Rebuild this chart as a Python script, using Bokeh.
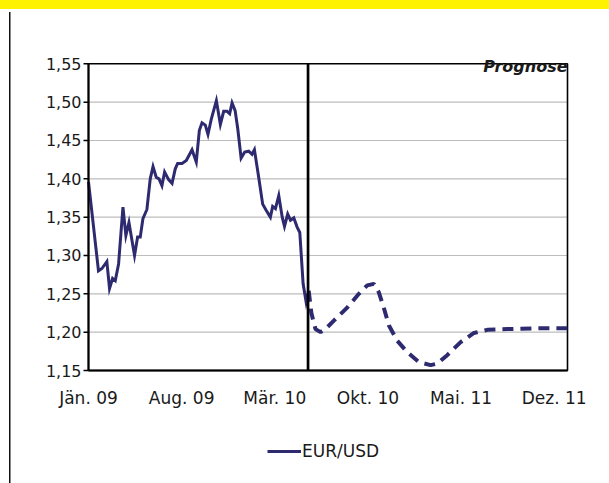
from bokeh.plotting import figure
from bokeh.models import (Label, Legend, LegendItem, Range1d)
from bokeh.core.properties import value
from bokeh.embed import file_html
from bokeh.resources import INLINE

# ---- data (months since Jan 2009) ----
hist_month = [0, 0.75, 1.01, 1.38, 1.58, 1.81, 2.01, 2.26, 2.59, 2.81, 3.04, 3.46, 3.69, 3.89,
              4.09, 4.39, 4.64, 4.85, 5.09, 5.30, 5.52, 5.72, 6.02, 6.28, 6.52, 6.70, 7.03,
              7.35, 7.78, 8.10, 8.33, 8.53, 8.78, 8.98, 9.23, 9.61, 9.91, 10.16, 10.41, 10.61,
              10.79, 11.02, 11.22, 11.47, 11.74, 12.04, 12.29, 12.47, 12.79, 13.09, 13.35,
              13.67, 13.84, 14.05, 14.30, 14.56, 14.73, 14.97, 15.18, 15.43, 15.68, 15.88,
              16.13, 16.36, 16.55]
hist_rate = [1.396, 1.280, 1.283, 1.292, 1.257, 1.270, 1.267, 1.289, 1.363, 1.326, 1.343,
             1.300, 1.324, 1.324, 1.348, 1.360, 1.400, 1.416, 1.402, 1.400, 1.391, 1.409,
             1.399, 1.394, 1.413, 1.420, 1.420, 1.424, 1.438, 1.422, 1.463, 1.473, 1.470,
             1.458, 1.478, 1.502, 1.471, 1.488, 1.488, 1.485, 1.499, 1.489, 1.465, 1.427,
             1.435, 1.436, 1.432, 1.438, 1.402, 1.367, 1.359, 1.350, 1.364, 1.361, 1.378,
             1.350, 1.338, 1.354, 1.346, 1.349, 1.337, 1.330, 1.263, 1.239, 1.254]

fc_month = [16.55, 16.75, 17.06, 17.44, 17.81, 18.44, 19.44, 20.32, 20.95, 21.44, 21.82,
            22.19, 22.57, 23.20, 23.95, 24.83, 25.71, 26.21, 26.96, 27.97, 28.97, 29.98,
            31.48, 33.49, 36.0]
fc_rate = [1.254, 1.225, 1.204, 1.200, 1.204, 1.215, 1.232, 1.250, 1.261, 1.263, 1.252,
           1.232, 1.209, 1.189, 1.174, 1.161, 1.157, 1.159, 1.170, 1.187, 1.199, 1.203,
           1.204, 1.205, 1.205]

forecast_start = 16.5
x_start, x_end = 0, 36

x_ticks = [0, 7, 14, 21, 28, 35]
x_tick_labels = ["Jän. 09", "Aug. 09", "Mär. 10", "Okt. 10", "Mai. 11", "Dez. 11"]
y_ticks = [1.15, 1.20, 1.25, 1.30, 1.35, 1.40, 1.45, 1.50, 1.55]
y_tick_labels = ["1,15", "1,20", "1,25", "1,30", "1,35", "1,40", "1,45", "1,50", "1,55"]

series_name = "EUR/USD"
LINE = "#2d2a70"
FONT = "DejaVu Sans"
TXT = "#1a1a1a"

y_lo, y_hi = y_ticks[0], y_ticks[-1]

# ---- layout: the frame is larger than the chart box so labels & legend fit inside ----
box_left, box_w = 88, 479          # chart box in page pixels
box_bottom, box_h = 370, 306.7
frame_left, frame_w = 30, 575
frame_top, frame_h = 15, 460
px_x = box_w / (x_end - x_start)
px_y = box_h / (y_hi - y_lo)
x_min = x_start - (box_left - frame_left) / px_x
x_max = x_min + frame_w / px_x
y_min = y_lo - (frame_top + frame_h - box_bottom) / px_y
y_max = y_min + frame_h / px_y
tick_len = 5 / px_x

p = figure(frame_width=frame_w, frame_height=frame_h, output_backend="svg", toolbar_location=None,
           x_range=Range1d(x_min, x_max), y_range=Range1d(y_min, y_max),
           min_border_left=frame_left, min_border_right=609 - frame_left - frame_w,
           min_border_top=frame_top, min_border_bottom=483 - frame_top - frame_h)
p.border_fill_color = None
p.background_fill_color = "white"
p.outline_line_color = None
p.xaxis.visible = False
p.yaxis.visible = False
p.grid.visible = False
p.styles = {
    "background-image": "linear-gradient(#fff200, #fff200), linear-gradient(#111111, #111111)",
    "background-repeat": "no-repeat, no-repeat",
    "background-position": "0px 0px, 9px 12px",
    "background-size": "100% 9px, 1.5px 100%",
}

# horizontal gridlines
grid_y = y_ticks[1:-1]
p.segment(x0=[x_start] * len(grid_y), y0=grid_y, x1=[x_end] * len(grid_y), y1=grid_y,
          line_color="#bdbdbd", line_width=1.2)

# plot box
p.quad(left=[x_start], right=[x_end], bottom=[y_lo], top=[y_hi], fill_color=None,
       line_color="black", line_width=1.6)

hist = p.line(hist_month, hist_rate, line_color=LINE, line_width=3, line_join="miter")
p.line(fc_month, fc_rate, line_color=LINE, line_width=4, line_dash="11 7")

# forecast divider, axis lines
p.segment(x0=[forecast_start], y0=[y_lo], x1=[forecast_start], y1=[y_hi],
          line_color="black", line_width=2.7)
p.segment(x0=[x_start], y0=[y_lo], x1=[x_end], y1=[y_lo], line_color="black", line_width=2)
p.segment(x0=[x_start], y0=[y_lo], x1=[x_start], y1=[y_hi], line_color="black", line_width=2)

# y ticks and labels
p.segment(x0=[x_start] * len(y_ticks), y0=y_ticks, x1=[x_start - tick_len] * len(y_ticks),
          y1=y_ticks, line_color="black", line_width=1.5)
p.text(x=[x_start] * len(y_ticks), y=y_ticks, text=y_tick_labels, text_align="right",
       text_baseline="middle", x_offset=-7, text_font=value(FONT), text_font_size="16px",
       text_color=TXT)

# x tick labels
p.text(x=x_ticks, y=[y_lo] * len(x_ticks), text=x_tick_labels, text_align="center",
       text_baseline="top", y_offset=17, text_font=value(FONT), text_font_size="17px",
       text_color=TXT)

p.add_layout(Label(x=x_end, y=y_hi, text="Prognose", text_align="right", text_baseline="top",
                   y_offset=7, text_font=FONT, text_font_size="16px", text_font_style="bold italic",
                   text_color=TXT))

legend = Legend(items=[LegendItem(label=series_name, renderers=[hist])],
                location=(237, 14), orientation="horizontal",
                border_line_color=None, background_fill_alpha=0,
                glyph_width=34, glyph_height=10, label_standoff=1, padding=0, margin=0,
                label_text_font=FONT, label_text_font_size="17px", label_text_color=TXT)
p.add_layout(legend)

open("out.html", "w").write(file_html(p, INLINE))
